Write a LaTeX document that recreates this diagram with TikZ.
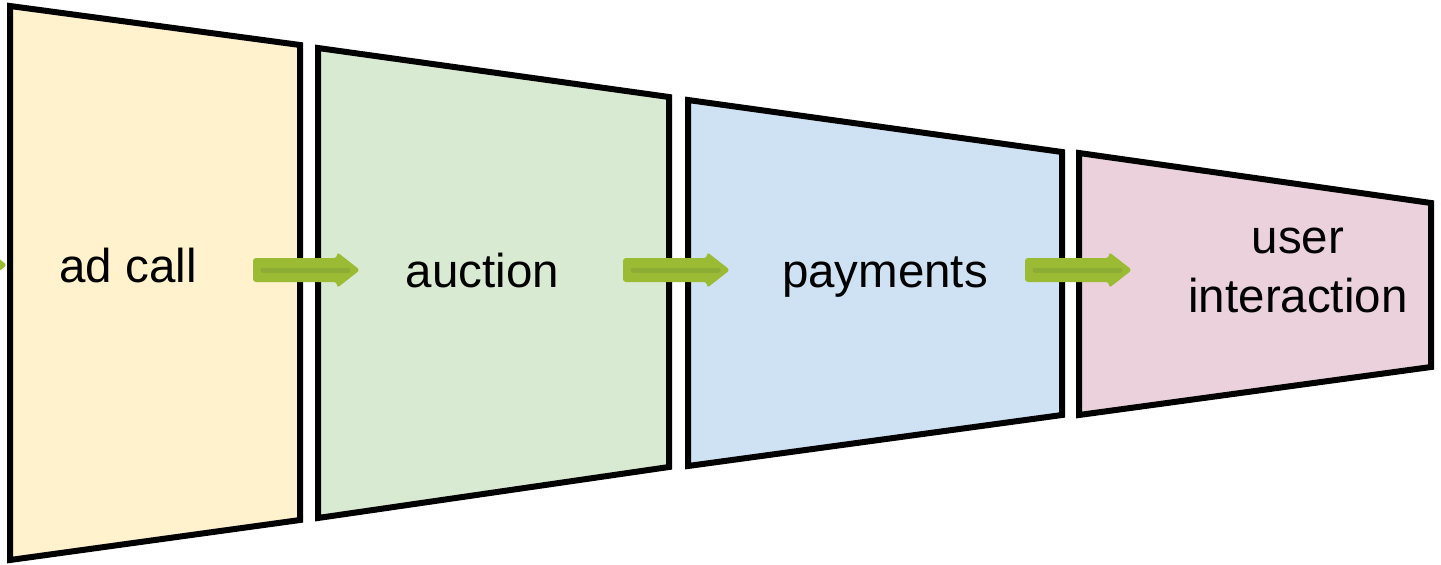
\documentclass[tikz,border=0pt]{standalone}
\usepackage{fontspec}
\setmainfont{Liberation Sans}
\usetikzlibrary{calc}
\definecolor{pyellow}{HTML}{FFF2CC}
\definecolor{pgreen}{HTML}{D9EAD3}
\definecolor{pblue}{HTML}{CFE2F3}
\definecolor{ppink}{HTML}{EAD1DC}
\definecolor{arrowgreen}{HTML}{9BBB34}
\definecolor{arrowdark}{HTML}{7E9A38}
\newcommand\blockarrow[2]{%
  \fill[arrowgreen, rounded corners=3pt]
    ($(#1)+(0,-12)$) -- ($(#2)+(-23,-12)$) -- ($(#2)+(-23,-18)$)
    -- (#2) -- ($(#2)+(-23,18)$) -- ($(#2)+(-23,12)$)
    -- ($(#1)+(0,12)$) -- cycle;
  \draw[arrowdark, line width=5pt, opacity=0.45, line cap=round]
    ($(#1)+(10,0)$) -- ($(#2)+(-12,0)$);
}
\tikzset{
  panel/.style={draw=black, line width=6pt},
  label/.style={font=\fontsize{47.5}{59}\selectfont, anchor=base, inner sep=0pt, text=black},
}
\begin{document}
\begin{tikzpicture}[x=1pt, y=-1pt]
\useasboundingbox (0,0) rectangle (1441,565);
\clip (0,0) rectangle (1441,565);
% panels
\draw[panel, fill=pyellow] (10,6) coordinate (p1a) -- (300,45) coordinate (p1b) -- (300,520) coordinate (p1c) -- (10,560) coordinate (p1d) -- cycle;
\draw[panel, fill=pgreen] (318,48) coordinate (p2a) -- (669,97) coordinate (p2b) -- (669,467) coordinate (p2c) -- (318,518) coordinate (p2d) -- cycle;
\draw[panel, fill=pblue] (688,100) coordinate (p3a) -- (1062,152) coordinate (p3b) -- (1062,415) coordinate (p3c) -- (688,466) coordinate (p3d) -- cycle;
\draw[panel, fill=ppink] (1079,153) coordinate (p4a) -- (1431,203) coordinate (p4b) -- (1431,367) coordinate (p4c) -- (1079,415) coordinate (p4d) -- cycle;
% labels
\node[label] (adcall) at (128,282) {ad call};
\node[label] (auction) at (482.5,287) {auction};
\node[label] (payments) at (885,287) {payments};
\node[label] (user) at (1298,253) {user};
\node[label] (interaction) at (1298,312) {interaction};
% arrows
\coordinate (a0s) at (-100,265);
\coordinate (a0e) at (7,265);
\coordinate (a1s) at (253,270);
\coordinate (a1e) at (360,270);
\coordinate (a2s) at (623,270);
\coordinate (a2e) at (730,270);
\coordinate (a3s) at (1025,270);
\coordinate (a3e) at (1132,270);
\blockarrow{a0s}{a0e}
\draw[panel] (p1a) -- (p1d);
\blockarrow{a1s}{a1e}
\blockarrow{a2s}{a2e}
\blockarrow{a3s}{a3e}
\end{tikzpicture}
\end{document}
